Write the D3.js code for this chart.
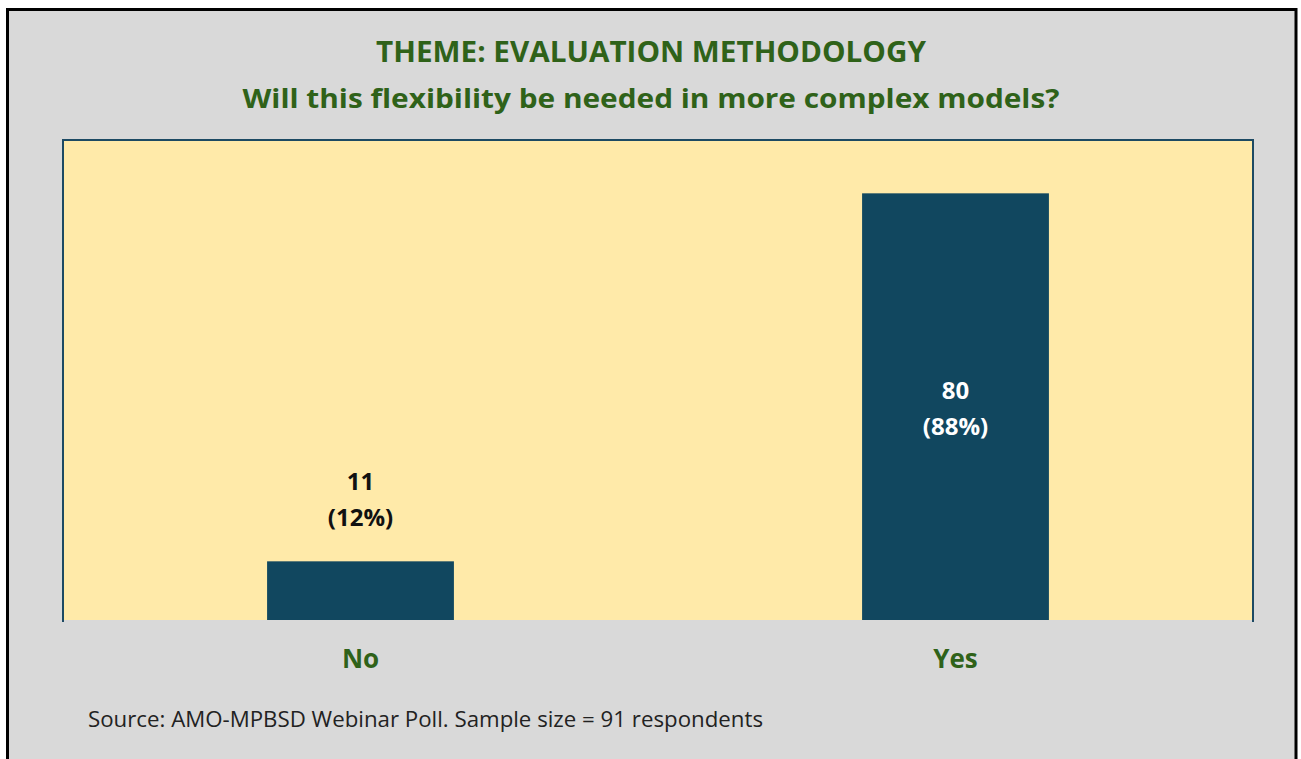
<!DOCTYPE html>
<html><head><meta charset="utf-8">
<script src="https://cdn.jsdelivr.net/npm/d3@7"></script>
<style>html,body{margin:0;padding:0;background:#fff;}svg{display:block;}</style>
</head><body>
<script>
const categories = ["No", "Yes"];
const counts = [11, 80];
const percents = ["12%", "88%"];
const titleLines = ["THEME: EVALUATION METHODOLOGY", "Will this flexibility be needed in more complex models?"];
const sourceText = "Source: AMO-MPBSD Webinar Poll. Sample size = 91 respondents";

const W = 1301, H = 759;
const svg = d3.select("body").append("svg").attr("width", W).attr("height", H);
const font = "'Open Sans', sans-serif";
const green = "#2f6219";
const barColor = "#11475f";

svg.append("rect").attr("x", 0).attr("y", 0).attr("width", W).attr("height", H).attr("fill", "#ffffff");
svg.append("rect").attr("x", 7.5).attr("y", 9.5).attr("width", 1288.5).attr("height", 760)
  .attr("fill", "#d9d9d9").attr("stroke", "#000").attr("stroke-width", 3);

const plot = {left: 63, top: 140, right: 1253, bottom: 620};
const x = d3.scaleBand().domain(categories).range([plot.left, plot.right]).paddingInner(0.686).paddingOuter(0.343);
const y = d3.scaleLinear().domain([0, 90]).range([plot.bottom, plot.top]);

svg.append("rect").attr("x", plot.left).attr("y", plot.top)
  .attr("width", plot.right - plot.left).attr("height", plot.bottom - plot.top).attr("fill", "#ffeaa9");
svg.append("path")
  .attr("d", `M${plot.left},${plot.bottom + 2}V${plot.top}H${plot.right}V${plot.bottom + 2}`)
  .attr("fill", "none").attr("stroke", "#1d4a63").attr("stroke-width", 2);

const data = categories.map((c, i) => ({c, v: counts[i], p: percents[i]}));

svg.selectAll(".bar").data(data).join("rect").attr("class", "bar")
  .attr("x", d => x(d.c)).attr("width", x.bandwidth())
  .attr("y", d => y(d.v)).attr("height", d => y(0) - y(d.v))
  .attr("fill", barColor);

// value labels
data.forEach(d => {
  const cx = x(d.c) + x.bandwidth() / 2;
  const inside = d.v > 40;
  const color = inside ? "#ffffff" : "#111111";
  const y1 = inside ? y(d.v) + 206 : y(d.v) - 71;
  const t = svg.append("text").attr("text-anchor", "middle").attr("font-family", font)
    .attr("font-weight", 700).attr("font-size", 24).attr("fill", color);
  t.append("tspan").attr("x", cx).attr("y", y1).text(d.v);
  t.append("tspan").attr("x", cx).attr("y", y1 + 36).text(`(${d.p})`);
});

// x axis labels
const xAxis = d3.axisBottom(x).tickSize(0).tickPadding(0);
const ax = svg.append("g").attr("transform", `translate(0,${plot.bottom})`).call(xAxis);
ax.select(".domain").remove();
ax.selectAll("text").attr("font-family", font).attr("font-weight", 700).attr("font-size", 26)
  .attr("fill", green).attr("dy", null).attr("y", 48);

// titles
svg.append("text").attr("x", 651).attr("y", 62).attr("text-anchor", "middle")
  .attr("font-family", font).attr("font-weight", 700).attr("font-size", 29).attr("fill", green)
  .attr("textLength", 550).attr("lengthAdjust", "spacingAndGlyphs").text(titleLines[0]);
svg.append("text").attr("x", 651).attr("y", 108).attr("text-anchor", "middle")
  .attr("font-family", font).attr("font-weight", 700).attr("font-size", 27).attr("fill", green)
  .attr("textLength", 817).attr("lengthAdjust", "spacingAndGlyphs").text(titleLines[1]);

svg.append("text").attr("x", 88).attr("y", 727)
  .attr("font-family", font).attr("font-size", 21).attr("fill", "#222222")
  .attr("textLength", 675).attr("lengthAdjust", "spacingAndGlyphs").text(sourceText);
</script>
</body></html>
